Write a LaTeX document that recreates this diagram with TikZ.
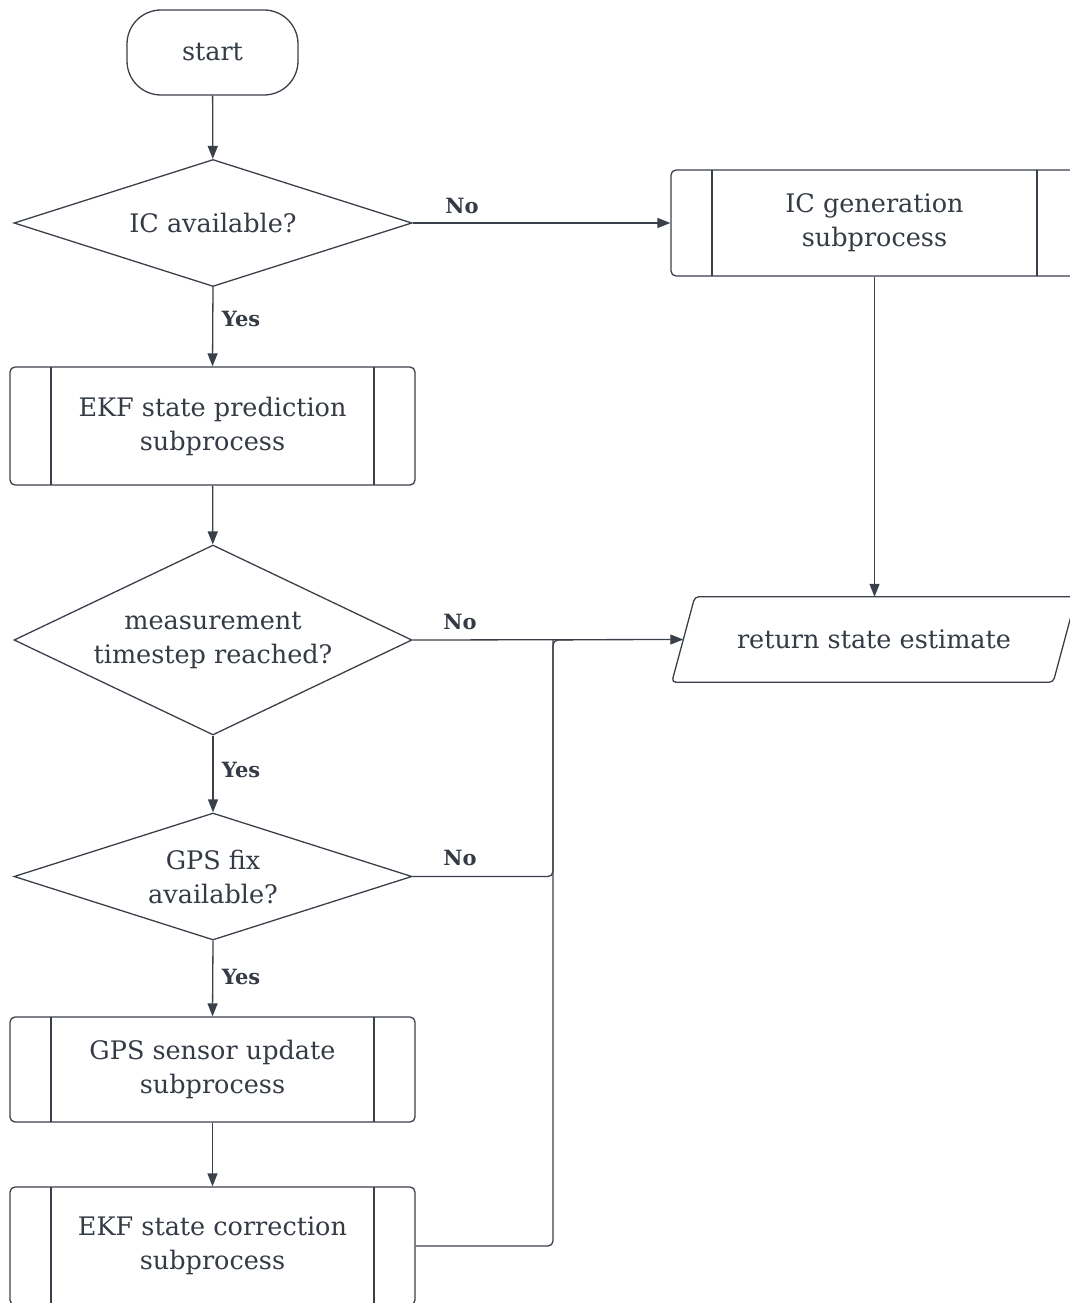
\documentclass[tikz,border=0pt]{standalone}
\usepackage{fontspec}
\setmainfont{DejaVu Serif}
\usetikzlibrary{arrows.meta,shapes.geometric}
\definecolor{ink}{HTML}{3A4049}
\definecolor{txt}{HTML}{343B45}

\begin{document}
\begin{tikzpicture}[x=1pt,y=-1pt,
  every node/.style={text=txt, font=\fontsize{25.5}{34}\selectfont, align=center, inner sep=0pt},
  shapeline/.style={draw=ink, line width=1.3pt},
  terminal/.style={shapeline, rectangle, rounded corners=34pt, minimum width=171pt, minimum height=85pt},
  decision/.style={shapeline, diamond, aspect=2, minimum width=398pt},
  subproc/.style={shapeline, rectangle, rounded corners=5pt, minimum width=405pt,
    path picture={\draw[ink, line width=1.3pt]
      ([xshift=41pt]path picture bounding box.north west) -- ([xshift=41pt]path picture bounding box.south west)
      ([xshift=-41pt]path picture bounding box.north east) -- ([xshift=-41pt]path picture bounding box.south east);}},
  iobody/.style={rectangle, minimum width=381pt, minimum height=85pt},
  arr/.style={draw=ink, line width=1.3pt, -{Triangle[length=13pt,width=10pt]}},
  link/.style={draw=ink, line width=1.3pt},
  lab/.style={font=\fontsize{21}{24}\selectfont\bfseries},
]
\useasboundingbox (0,0) rectangle (1070,1303);
\clip (0,0) rectangle (1070,1303);

% shapes
\node[terminal] (start) at (212.5,52.5) {start};
\node[decision, minimum height=127pt] (d1) at (213,223) {IC available?};
\node[subproc, minimum width=407pt, minimum height=106pt] (icgen) at (874.5,223) {IC generation\\subprocess};
\node[subproc, minimum height=118pt] (ep) at (212.5,426) {EKF state prediction\\subprocess};
\node[decision, minimum height=190pt] (d2) at (213,640) {measurement\\timestep reached?};
\node[iobody] (ret) at (874,639.5) {return state estimate};
\draw[shapeline, rounded corners=4pt]
  ([xshift=11.5pt]ret.north west) -- ([xshift=11.5pt]ret.north east)
  -- ([xshift=-11.5pt]ret.south east) -- ([xshift=-11.5pt]ret.south west) -- cycle;
\node[decision, minimum height=127pt] (d3) at (213,876.5) {GPS fix\\available?};
\node[subproc, minimum height=105pt] (gps) at (212.5,1069.5) {GPS sensor update\\subprocess};
\node[subproc, minimum height=118pt] (corr) at (212.5,1246) {EKF state correction\\subprocess};

\coordinate (j) at (553,640);

% connectors
\draw[arr] (start) -- (d1);
\draw[arr] (d1.east) -- (icgen.west);
\draw[arr] (d1.south) -- (ep.north);
\draw[arr] (icgen.south) -- (icgen.south |- ret.north);
\draw[arr] (ep) -- (d2);
\draw[arr] (d2.east) -- (ret.west);
\draw[arr] (d2.south) -- (d3.north);
\draw[arr] (d3.south) -- (gps.north);
\draw[arr] (gps) -- (corr);
\draw[link, rounded corners=5pt] (d3.east) -| (j);
\draw[link, rounded corners=5pt] (corr.east) -| (j) -- ([xshift=20pt]j);

% branch labels
\node[lab] (no1) at (462,206) {No};
\node[lab] (no2) at (460,622) {No};
\node[lab] (no3) at (460,858) {No};
\node[lab] (yes1) at (241,319) {Yes};
\node[lab] (yes2) at (241,770) {Yes};
\node[lab] (yes3) at (241,977) {Yes};
\end{tikzpicture}
\end{document}
